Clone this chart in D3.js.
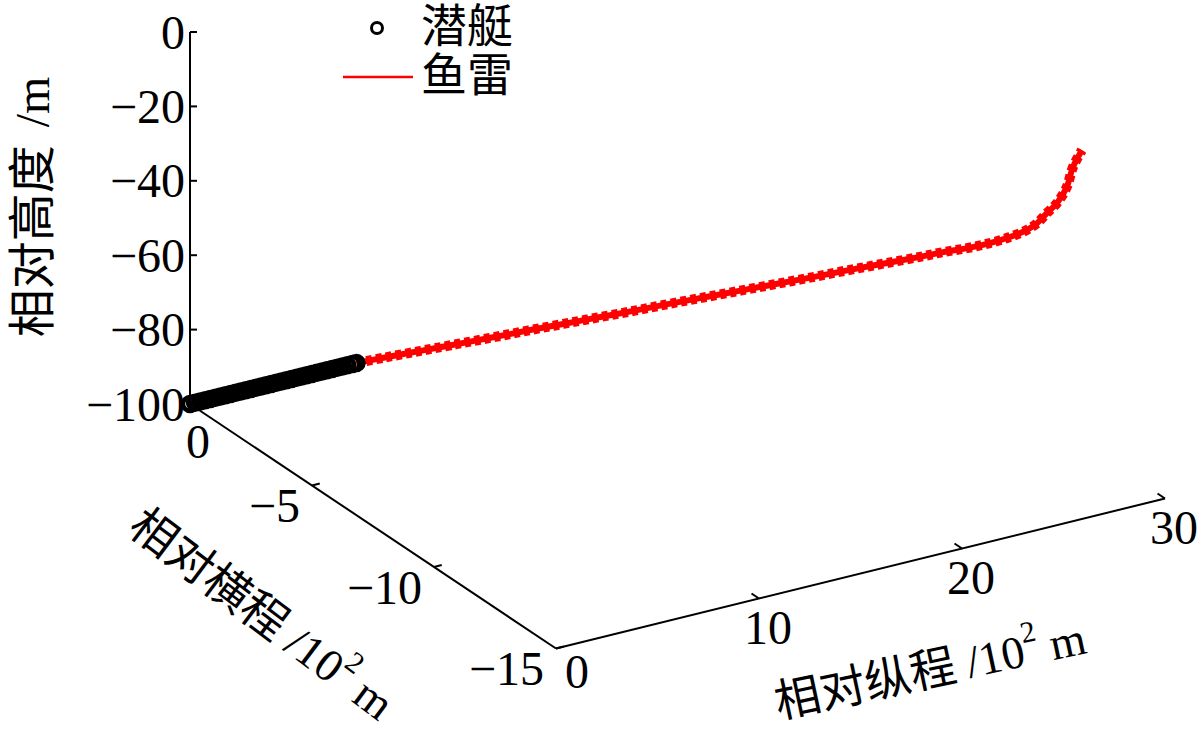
<!DOCTYPE html>
<html>
<head>
<meta charset="utf-8">
<script src="https://cdn.jsdelivr.net/npm/d3@7"></script>
<style>
  html, body { margin: 0; padding: 0; background: #fff; }
  text { font-family: "Liberation Serif", "Noto Sans CJK SC", serif; fill: #000; }
</style>
</head>
<body>
<div id="chart"></div>
<script>
// tick values of the three axes
const latTicks = [0, -5, -10, -15];          // 相对横程 /10^2 m
const lonTicks = [0, 10, 20, 30];            // 相对纵程 /10^2 m
const zTicks = [0, -20, -40, -60, -80, -100]; // 相对高度 /m

// submarine track (circles)
const subLon = [0, 0.25, 0.5, 0.75, 1, 1.25, 1.5, 1.75, 2, 2.25, 2.5, 2.75, 3, 3.25, 3.5, 3.75, 4,
  4.25, 4.5, 4.75, 5, 5.25, 5.5, 5.75, 6, 6.25, 6.5, 6.75, 7, 7.25, 7.5, 7.75, 8, 8.2];
const subLat = [0, 0, 0, 0, 0, 0, 0, 0, 0, 0, 0, 0, 0, 0, 0, 0, 0,
  0, 0, 0, 0, 0, 0, 0, 0, 0, 0, 0, 0, 0, 0, 0, 0, 0];
const subZ = [-100, -100, -100, -100, -100, -100, -100, -100, -100, -100, -100, -100, -100, -100, -100, -100, -100,
  -100, -100, -100, -100, -100, -100, -100, -100, -100, -100, -100, -100, -100, -100, -100, -100, -100];

// torpedo track (red)
const torpLon = [8.2, 9, 10, 11, 12, 13, 14, 15, 16, 17, 18, 19, 20, 21, 22, 23, 24,
  24.65, 25.32, 25.96, 26.52, 27.0, 27.28, 27.56, 27.84, 28.12, 28.29, 28.54];
const torpLat = [0, -0.50, -1.13, -1.76, -2.39, -3.02, -3.65, -4.28, -4.91, -5.54, -6.17, -6.80, -7.43, -8.06, -8.69, -9.32, -9.95,
  -10.36, -10.78, -11.19, -11.54, -11.84, -12.02, -12.19, -12.37, -12.54, -12.65, -12.81];
const torpZ = [-100, -97.4, -94.2, -91.0, -87.8, -84.5, -81.3, -78.1, -74.9, -71.6, -68.4, -65.2, -62.0, -58.8, -55.5, -52.3, -49.1,
  -46.9, -44.9, -42.6, -40.2, -37.6, -35.4, -32.3, -29.2, -24.5, -18.9, -14.0];

const width = 1200, height = 746;

const svg = d3.select('#chart')
  .append('svg')
  .attr('width', width)
  .attr('height', height);

// each data axis maps to a fraction of its projected screen vector
const latS = d3.scaleLinear().domain([0, -15]).range([0, 1]);
const lonS = d3.scaleLinear().domain([0, 30]).range([0, 1]);
const zS = d3.scaleLinear().domain([-100, 0]).range([0, 1]);

// oblique view: corner (lat 0, lon 0, z -100) and the screen vectors of full axes
const origin = [190, 404];
const vLat = [366, 244.5];
const vLon = [609, -150];
const vZ = [0, -372];

function project(lat, lon, z) {
  const a = latS(lat), b = lonS(lon), c = zS(z);
  return [origin[0] + a * vLat[0] + b * vLon[0] + c * vZ[0],
          origin[1] + a * vLat[1] + b * vLon[1] + c * vZ[1]];
}

const axisG = svg.append('g')
  .attr('stroke', '#000')
  .attr('stroke-width', 2)
  .attr('fill', 'none');

// z axis (at lat 0, lon 0)
const zTop = project(0, 0, 0), zBot = project(0, 0, -100);
axisG.append('line')
  .attr('x1', zTop[0]).attr('y1', zTop[1])
  .attr('x2', zBot[0]).attr('y2', zBot[1]);
zTicks.forEach(t => {
  const p = project(0, 0, t);
  axisG.append('line')
    .attr('x1', p[0]).attr('y1', p[1])
    .attr('x2', p[0] + 7).attr('y2', p[1]);
  svg.append('text')
    .attr('x', p[0] - 5)
    .attr('y', p[1])
    .attr('text-anchor', 'end')
    .attr('dominant-baseline', 'central')
    .style('font-size', '48px')
    .text(t < 0 ? '\u2212' + Math.abs(t) : t);
});

// lateral axis (at lon 0, z -100)
const la0 = project(0, 0, -100), la1 = project(-15, 0, -100);
axisG.append('line')
  .attr('x1', la0[0]).attr('y1', la0[1])
  .attr('x2', la1[0]).attr('y2', la1[1]);
const lonDir = [vLon[0] / Math.hypot(vLon[0], vLon[1]), vLon[1] / Math.hypot(vLon[0], vLon[1])];
latTicks.forEach(t => {
  const p = project(t, 0, -100);
  axisG.append('line')
    .attr('x1', p[0]).attr('y1', p[1])
    .attr('x2', p[0] + lonDir[0] * 8).attr('y2', p[1] + lonDir[1] * 8);
  svg.append('text')
    .attr('x', t === 0 ? p[0] + 20 : p[0] - 12)
    .attr('y', t === 0 ? p[1] + 37 : p[1] + 20)
    .attr('text-anchor', 'end')
    .attr('dominant-baseline', 'central')
    .style('font-size', '48px')
    .text(t < 0 ? '\u2212' + Math.abs(t) : t);
});

// longitudinal axis (at lat -15, z -100)
const lo0 = project(-15, 0, -100), lo1 = project(-15, 30, -100);
axisG.append('line')
  .attr('x1', lo0[0]).attr('y1', lo0[1])
  .attr('x2', lo1[0]).attr('y2', lo1[1]);
const latDir = [-vLat[0] / Math.hypot(vLat[0], vLat[1]), -vLat[1] / Math.hypot(vLat[0], vLat[1])];
lonTicks.forEach(t => {
  const p = project(-15, t, -100);
  if (t !== 0) {
    axisG.append('line')
      .attr('x1', p[0]).attr('y1', p[1])
      .attr('x2', p[0] + latDir[0] * 9).attr('y2', p[1] + latDir[1] * 9);
  }
  svg.append('text')
    .attr('x', t === 0 ? p[0] + 21 : p[0] + 9)
    .attr('y', t === 0 ? p[1] + 23 : p[1] + 29)
    .attr('text-anchor', 'middle')
    .attr('dominant-baseline', 'central')
    .style('font-size', '48px')
    .text(t);
});

// axis titles
svg.append('text')
  .attr('transform', 'translate(32,207) rotate(-90)')
  .attr('text-anchor', 'middle')
  .attr('dominant-baseline', 'central')
  .style('font-size', '48px')
  .style('word-spacing', '6px')
  .text('相对高度 /m');

function unitTitle(x, y, angle) {
  return svg.append('text')
    .attr('transform', `translate(${x},${y}) rotate(${angle})`)
    .attr('text-anchor', 'middle')
    .attr('dominant-baseline', 'central')
    .style('font-size', '46px');
}
const latTitle = unitTitle(262, 614, 37);
latTitle.append('tspan').text('相对横程 /10');
latTitle.append('tspan').attr('dy', -18).style('font-size', '30px').text('2');
latTitle.append('tspan').attr('dy', 18).text(' m');

const lonTitle = unitTitle(930, 670, -12);
lonTitle.append('tspan').text('相对纵程 /10');
lonTitle.append('tspan').attr('dy', -18).style('font-size', '30px').text('2');
lonTitle.append('tspan').attr('dy', 18).text(' m');

// torpedo
const torpPts = torpLon.map((d, i) => project(torpLat[i], d, torpZ[i]));
const line = d3.line().curve(d3.curveCatmullRom);
svg.append('path')
  .attr('d', line(torpPts))
  .attr('fill', 'none')
  .attr('stroke', '#ff0000')
  .attr('stroke-width', 6);
svg.append('path')
  .attr('d', line(torpPts))
  .attr('fill', 'none')
  .attr('stroke', '#ff0000')
  .attr('stroke-width', 10)
  .attr('stroke-dasharray', '6,4');

// submarine
const subPts = subLon.map((d, i) => project(subLat[i], d, subZ[i]));
svg.selectAll('circle.sub')
  .data(subPts)
  .enter()
  .append('circle')
  .attr('class', 'sub')
  .attr('cx', d => d[0])
  .attr('cy', d => d[1])
  .attr('r', 7)
  .attr('fill', 'none')
  .attr('stroke', '#000')
  .attr('stroke-width', 4.5);

// legend
const legend = svg.append('g');
legend.append('circle')
  .attr('cx', 377).attr('cy', 28).attr('r', 5.5)
  .attr('fill', 'none').attr('stroke', '#000').attr('stroke-width', 3);
legend.append('text')
  .attr('x', 421).attr('y', 26)
  .attr('dominant-baseline', 'central')
  .style('font-size', '46px')
  .text('潜艇');
legend.append('line')
  .attr('x1', 343).attr('y1', 77).attr('x2', 413).attr('y2', 77)
  .attr('stroke', '#ff0000').attr('stroke-width', 2.5);
legend.append('text')
  .attr('x', 421).attr('y', 75)
  .attr('dominant-baseline', 'central')
  .style('font-size', '46px')
  .text('鱼雷');
</script>
</body>
</html>
